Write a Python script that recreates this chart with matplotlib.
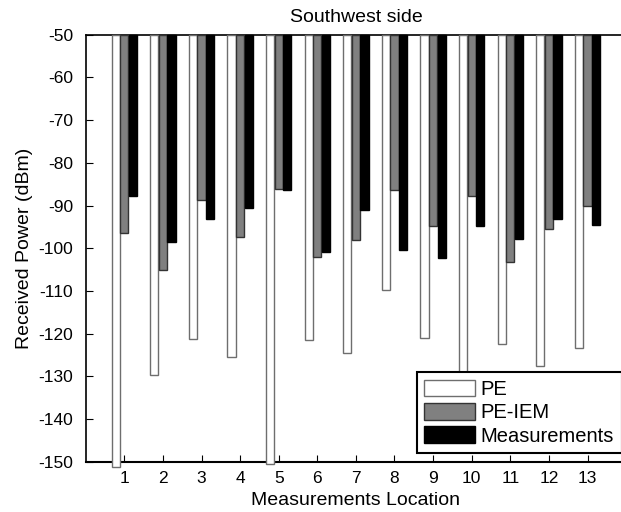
import numpy as np
import matplotlib.pyplot as plt

plt.rcParams['font.family'] = ['Liberation Sans', 'DejaVu Sans']
plt.rcParams['axes.unicode_minus'] = False

locations = np.arange(1, 14)
pe = [-151.3, -129.8, -121.2, -125.5, -150.6, -121.5, -124.6,
      -109.8, -121.1, -140.0, -122.4, -127.6, -123.3]
pe_iem = [-96.5, -105.2, -88.8, -97.4, -86.2, -102.1, -98.0,
          -86.3, -94.9, -87.7, -103.3, -95.5, -90.2]
measured = [-87.7, -98.6, -93.2, -90.6, -86.3, -100.9, -91.0,
            -100.4, -102.3, -94.9, -97.9, -93.1, -94.5]

base = -50
w = 0.21
off = 0.222

fig = plt.figure(figsize=(6.21, 5.12), dpi=100)
ax = fig.add_axes([85.7 / 621, 1 - 461.7 / 512, 540.4 / 621, 427 / 512])

series = [(pe, -off, 'white', '#6e6e6e', 'PE'),
          (pe_iem, 0, '#808080', '#333333', 'PE-IEM'),
          (measured, off, 'black', 'black', 'Measurements')]
for vals, dx, fc, ec, lab in series:
    h = np.array(vals) - base
    bars = ax.bar(locations + dx, h, width=w, bottom=base, color=fc,
                  edgecolor=ec, linewidth=1.0, label=lab, zorder=3)
    for b in bars:
        b.set_clip_on(False)

ax.set_xlim(0, 14)
ax.set_ylim(-150, -50)
ax.set_xticks(locations)
ax.set_yticks(np.arange(-150, -49, 10))
ax.tick_params(direction='in', length=5, labelsize=12.5, top=False, right=False)
ax.tick_params(axis='y', pad=9)
ax.tick_params(axis='x', pad=7)
ax.spines['right'].set_visible(False)
for s in ['left', 'bottom', 'top']:
    ax.spines[s].set_linewidth(1.2)
ax.spines['bottom'].set_linewidth(1.5)

ax.set_title('Southwest side', fontsize=14, pad=9)
ax.set_xlabel('Measurements Location', fontsize=14, labelpad=4)
ax.set_ylabel('Received Power (dBm)', fontsize=14, labelpad=4)

leg = ax.legend(loc='lower left', bbox_to_anchor=(0.6125, 0.0197),
                fontsize=14.5, fancybox=False, framealpha=1, edgecolor='black',
                handlelength=2.5, handleheight=0.88, handletextpad=0.3,
                labelspacing=0.2, borderpad=0.38, borderaxespad=0)
leg.get_frame().set_linewidth(1.5)
leg.set_zorder(5)

fig.savefig('out.png', dpi=100)
